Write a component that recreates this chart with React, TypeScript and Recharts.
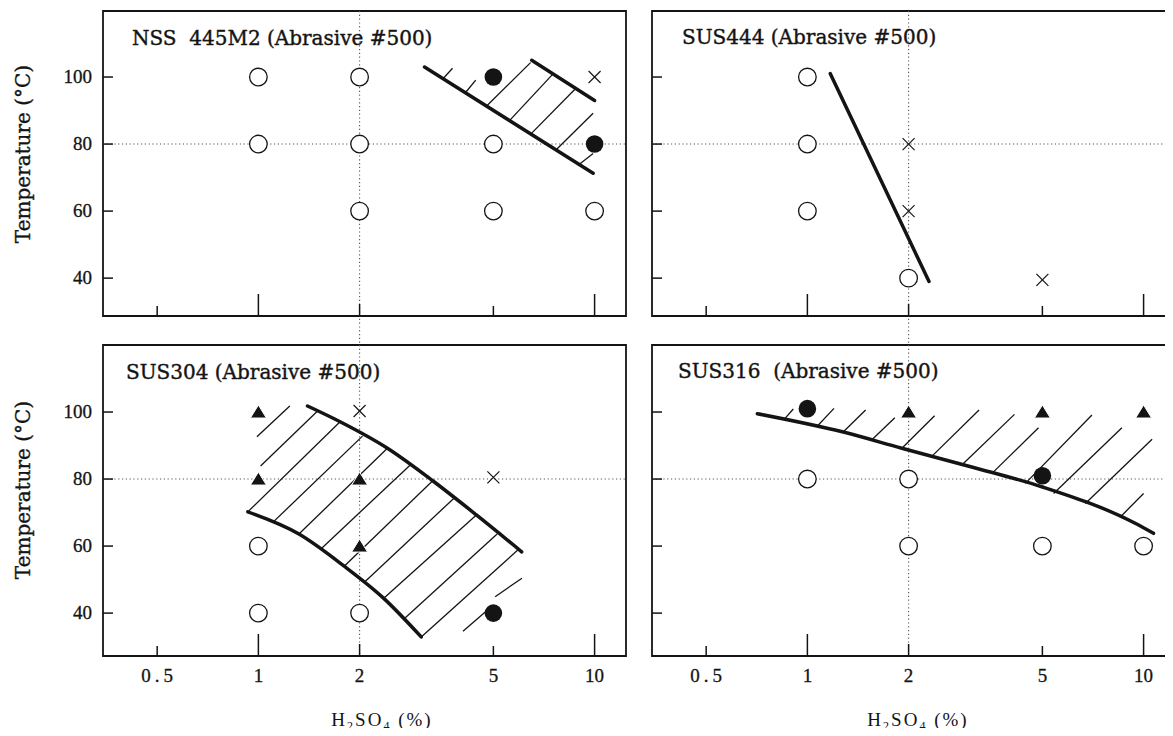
import React from "react";
import {
  ComposedChart,
  Scatter,
  Line,
  XAxis,
  YAxis,
  ReferenceLine,
  ReferenceArea,
} from "recharts";

// axes
const X_TICKS = [0.5, 1, 2, 5, 10];
const X_TICK_LABELS = ["0.5", "1", "2", "5", "10"];
const T_TICKS = [40, 60, 80, 100];
const X_DOMAIN: [number, number] = [0.345, 12.4];
const T_DOMAIN_TOP: [number, number] = [28.7, 119.7];
const T_DOMAIN_BOTTOM: [number, number] = [27.2, 120];
const GRID_X = 2;
const GRID_T = 80;

type Pt = { x: number; t: number };

// NSS 445M2
const nssOpen: Pt[] = [
  { x: 1, t: 100 }, { x: 1, t: 80 }, { x: 2, t: 100 }, { x: 2, t: 80 },
  { x: 2, t: 60 }, { x: 5, t: 80 }, { x: 5, t: 60 }, { x: 10, t: 60 },
];
const nssFilled: Pt[] = [{ x: 5, t: 100 }, { x: 10, t: 80 }];
const nssCross: Pt[] = [{ x: 10, t: 100 }];
const nssLower: Pt[] = [{ x: 3.12, t: 103 }, { x: 9.9, t: 71.3 }];
const nssUpper: Pt[] = [{ x: 6.5, t: 105 }, { x: 10, t: 93 }];
const nssHatch = [
  [3.54, 99.5, 3.78, 102.6], [4.15, 95.6, 4.43, 99.1], [4.79, 91.5, 6.45, 104.3],
  [5.61, 87.2, 7.5, 100.8], [6.49, 83.2, 8.77, 96.5], [7.7, 78.4, 9.9, 89.2],
  [9.01, 74, 9.9, 77.2],
];

// SUS444
const s444Open: Pt[] = [{ x: 1, t: 100 }, { x: 1, t: 80 }, { x: 1, t: 60 }, { x: 2, t: 40 }];
const s444Cross: Pt[] = [{ x: 2, t: 80 }, { x: 2, t: 60 }, { x: 5, t: 39.5 }];
const s444Line: Pt[] = [{ x: 1.17, t: 101 }, { x: 2.3, t: 39 }];

// SUS304
const s304Tri: Pt[] = [{ x: 1, t: 100 }, { x: 1, t: 80 }, { x: 2, t: 80 }, { x: 2, t: 60 }];
const s304Open: Pt[] = [{ x: 1, t: 60 }, { x: 1, t: 40 }, { x: 2, t: 40 }];
const s304Cross: Pt[] = [{ x: 2, t: 100.3 }, { x: 5, t: 80.5 }];
const s304Filled: Pt[] = [{ x: 5, t: 40 }];
const s304Upper: Pt[] = [
  { x: 1.4, t: 101.8 }, { x: 1.75, t: 97.1 }, { x: 2.42, t: 89.2 },
  { x: 3.3, t: 79.5 }, { x: 4.45, t: 69.3 }, { x: 6.07, t: 58.3 },
];
const s304Lower: Pt[] = [
  { x: 0.93, t: 70.2 }, { x: 1.32, t: 63.6 }, { x: 1.8, t: 54 },
  { x: 2.36, t: 44.4 }, { x: 3.05, t: 32.9 },
];
const s304Hatch = [
  [0.99, 92.6, 1.24, 101.8], [1.015, 83.9, 1.5, 100.3], [0.93, 70.2, 1.75, 97.1],
  [1.11, 67.3, 2.04, 92.8], [1.32, 63.6, 2.42, 89.2], [1.54, 59.3, 2.83, 84.2],
  [1.8, 54, 3.3, 79.5], [2.07, 49.3, 3.81, 74.2], [2.36, 44.4, 4.45, 69.3],
  [2.72, 38.4, 5.13, 63.6], [3.05, 32.9, 5.92, 58.9], [4.06, 34.6, 4.93, 41.9],
  [5.06, 44.9, 6.08, 50.4],
];

// SUS316
const s316Open: Pt[] = [
  { x: 1, t: 80 }, { x: 2, t: 80 }, { x: 2, t: 60 }, { x: 5, t: 60 }, { x: 10, t: 60 },
];
const s316Filled: Pt[] = [{ x: 1, t: 101 }, { x: 5, t: 81 }];
const s316Tri: Pt[] = [{ x: 2, t: 100 }, { x: 5, t: 100 }, { x: 10, t: 100 }];
const s316Line: Pt[] = [
  { x: 0.71, t: 99.5 }, { x: 1.27, t: 94.1 }, { x: 1.91, t: 89.2 }, { x: 3.08, t: 83.6 },
  { x: 4.98, t: 77.7 }, { x: 9.44, t: 66.8 }, { x: 10.7, t: 63.8 },
];
const s316Hatch = [
  [0.858, 98.1, 0.908, 100.9], [1.066, 95.6, 1.2, 101.1], [1.28, 94.1, 1.49, 100.6],
  [1.55, 91.6, 1.82, 98.3], [1.91, 89.2, 2.39, 98.9], [2.34, 86.7, 3.24, 100.6],
  [2.88, 84.2, 4.13, 99.3], [3.54, 81.7, 4.87, 95.3], [4.45, 78.7, 7.02, 99.1],
  [5.4, 75.7, 8.62, 95.3], [6.71, 72.7, 10.6, 91.9], [8.53, 68.7, 10.0, 75.7],
];

const INK = "#141414";
const SERIF = "'DejaVu Serif', serif";
const NUM = "'Liberation Serif', serif";

const openCircle = (p: any) => (
  <circle cx={p.cx} cy={p.cy} r={8.8} fill="#fff" stroke={INK} strokeWidth={1.3} />
);
const filledCircle = (p: any) => <circle cx={p.cx} cy={p.cy} r={8.8} fill={INK} />;
const cross = (p: any) => (
  <g stroke={INK} strokeWidth={1.2}>
    <line x1={p.cx - 6} y1={p.cy - 6} x2={p.cx + 6} y2={p.cy + 6} />
    <line x1={p.cx - 6} y1={p.cy + 6} x2={p.cx + 6} y2={p.cy - 6} />
  </g>
);
const triangle = (p: any) => (
  <polygon
    points={`${p.cx},${p.cy - 7} ${p.cx + 8},${p.cy + 6} ${p.cx - 8},${p.cy + 6}`}
    fill={INK}
    stroke="#fff"
    strokeWidth={1}
  />
);

function XTick({ x, y, payload, labels }: any) {
  const v = payload.value;
  const len = v === 1 || v === 10 ? 22 : v === 2 ? 12 : 10;
  const spaced = v === 0.5;
  return (
    <g>
      <line x1={x} y1={y} x2={x} y2={y - len} stroke={INK} strokeWidth={1.5} />
      {labels && (
        <text
          x={spaced ? x + 2 : x}
          y={y + 26}
          textAnchor="middle"
          fontFamily={NUM}
          fontSize={19}
          fill={INK}
          stroke={INK}
          strokeWidth={0.3}
          letterSpacing={spaced ? 4 : 0}
        >
          {X_TICK_LABELS[X_TICKS.indexOf(v)]}
        </text>
      )}
    </g>
  );
}

function YTick({ x, y, payload, labels }: any) {
  return (
    <g>
      <line x1={x} y1={y} x2={x + 10} y2={y} stroke={INK} strokeWidth={1.5} />
      {labels && (
        <text
          x={x - 11}
          y={y + 6}
          textAnchor="end"
          fontFamily={NUM}
          fontSize={19}
          fill={INK}
          stroke={INK}
          strokeWidth={0.3}
        >
          {payload.value}
        </text>
      )}
    </g>
  );
}

type PanelProps = {
  left: number;
  top: number;
  height: number;
  mTop: number;
  mBottom: number;
  domain: [number, number];
  yLabels: boolean;
  xLabels: boolean;
  gridTo: number;
  open?: Pt[];
  filled?: Pt[];
  crosses?: Pt[];
  triangles?: Pt[];
  curves?: Pt[][];
  hatch?: number[][];
};

function Panel(p: PanelProps) {
  return (
    <div style={{ position: "absolute", left: p.left, top: p.top }}>
      <ComposedChart
        width={640}
        height={p.height}
        margin={{ top: p.mTop, right: 14, bottom: p.mBottom, left: 43 }}
      >
        <XAxis
          dataKey="x"
          type="number"
          scale="log"
          domain={X_DOMAIN}
          allowDataOverflow
          ticks={X_TICKS}
          interval={0}
          height={30}
          tickSize={0}
          tickMargin={0}
          axisLine={false}
          tickLine={false}
          tick={(t: any) => <XTick {...t} labels={p.xLabels} />}
        />
        <YAxis
          dataKey="t"
          type="number"
          domain={p.domain}
          allowDataOverflow
          ticks={T_TICKS}
          interval={0}
          width={60}
          tickSize={0}
          tickMargin={0}
          axisLine={false}
          tickLine={false}
          tick={(t: any) => <YTick {...t} labels={p.yLabels} />}
        />
        <ReferenceLine y={GRID_T} stroke="#555" strokeWidth={1.1} strokeDasharray="1.2 2.6" />
        <ReferenceLine
          segment={[{ x: GRID_X, y: p.domain[1] }, { x: GRID_X, y: p.gridTo }]}
          ifOverflow="visible"
          stroke="#555"
          strokeWidth={1.1}
          strokeDasharray="1.2 2.6"
        />
        <ReferenceArea
          x1={X_DOMAIN[0]}
          x2={X_DOMAIN[1]}
          y1={p.domain[0]}
          y2={p.domain[1]}
          fill="none"
          fillOpacity={0}
          stroke={INK}
          strokeWidth={1.8}
          ifOverflow="visible"
        />
        {(p.hatch || []).map((s, i) => (
          <ReferenceLine
            key={"h" + i}
            segment={[{ x: s[0], y: s[1] }, { x: s[2], y: s[3] }]}
            stroke={INK}
            strokeWidth={1.3}
          />
        ))}
        {(p.curves || []).map((c, i) => (
          <Line
            key={"c" + i}
            data={c}
            dataKey="t"
            type="monotone"
            stroke={INK}
            strokeWidth={3.5}
            strokeLinecap="round"
            dot={false}
            activeDot={false}
            isAnimationActive={false}
          />
        ))}
        {p.open && <Scatter data={p.open} dataKey="t" shape={openCircle} isAnimationActive={false} />}
        {p.filled && <Scatter data={p.filled} dataKey="t" shape={filledCircle} isAnimationActive={false} />}
        {p.crosses && <Scatter data={p.crosses} dataKey="t" shape={cross} isAnimationActive={false} />}
        {p.triangles && <Scatter data={p.triangles} dataKey="t" shape={triangle} isAnimationActive={false} />}
      </ComposedChart>
    </div>
  );
}

const title = (x: number, y: number): React.CSSProperties => ({
  position: "absolute",
  left: x,
  top: y,
  fontFamily: SERIF,
  fontSize: 20,
  lineHeight: "20px",
  whiteSpace: "pre",
  color: INK,
  WebkitTextStroke: "0.4px " + INK,
});

const yTitle = (cy: number): React.CSSProperties => ({
  position: "absolute",
  left: 23,
  top: cy,
  transform: "translate(-50%, -50%) rotate(-90deg)",
  fontFamily: SERIF,
  fontSize: 20,
  lineHeight: "20px",
  whiteSpace: "nowrap",
  color: INK,
  WebkitTextStroke: "0.35px " + INK,
});

const xTitle = (cx: number): React.CSSProperties => ({
  position: "absolute",
  left: cx,
  top: 710,
  transform: "translateX(-50%)",
  fontFamily: NUM,
  fontSize: 19,
  lineHeight: "20px",
  letterSpacing: 2,
  whiteSpace: "nowrap",
  color: INK,
});

const sub: React.CSSProperties = { fontSize: 12, position: "relative", top: 4 };

function H2SO4() {
  return (
    <>
      H<span style={sub}>2</span>SO<span style={sub}>4</span> (%)
    </>
  );
}

export default function App() {
  return (
    <div
      style={{
        position: "relative",
        width: 1173,
        height: 736,
        margin: -8,
        overflow: "hidden",
        background: "#fff",
      }}
    >
      <Panel
        left={0} top={0} height={346} mTop={11} mBottom={0}
        domain={T_DOMAIN_TOP} yLabels xLabels={false} gridTo={20}
        open={nssOpen} filled={nssFilled} crosses={nssCross}
        curves={[nssLower, nssUpper]} hatch={nssHatch}
      />
      <Panel
        left={549} top={0} height={346} mTop={11} mBottom={0}
        domain={T_DOMAIN_TOP} yLabels={false} xLabels={false} gridTo={20}
        open={s444Open} crosses={s444Cross} curves={[s444Line]}
      />
      <Panel
        left={0} top={330} height={406} mTop={15} mBottom={50}
        domain={T_DOMAIN_BOTTOM} yLabels xLabels gridTo={T_DOMAIN_BOTTOM[0]}
        open={s304Open} filled={s304Filled} crosses={s304Cross} triangles={s304Tri}
        curves={[s304Upper, s304Lower]} hatch={s304Hatch}
      />
      <Panel
        left={549} top={330} height={406} mTop={15} mBottom={50}
        domain={T_DOMAIN_BOTTOM} yLabels={false} xLabels gridTo={T_DOMAIN_BOTTOM[0]}
        open={s316Open} filled={s316Filled} triangles={s316Tri}
        curves={[s316Line]} hatch={s316Hatch}
      />

      <div style={title(132, 28)}>NSS  445M2 (Abrasive #500)</div>
      <div style={title(682, 27)}>SUS444 (Abrasive #500)</div>
      <div style={title(126, 362)}>SUS304 (Abrasive #500)</div>
      <div style={title(678, 361)}>SUS316  (Abrasive #500)</div>

      <div style={yTitle(154)}>Temperature (°C)</div>
      <div style={yTitle(490)}>Temperature (°C)</div>

      <div style={xTitle(382)}><H2SO4 /></div>
      <div style={xTitle(918)}><H2SO4 /></div>
    </div>
  );
}
